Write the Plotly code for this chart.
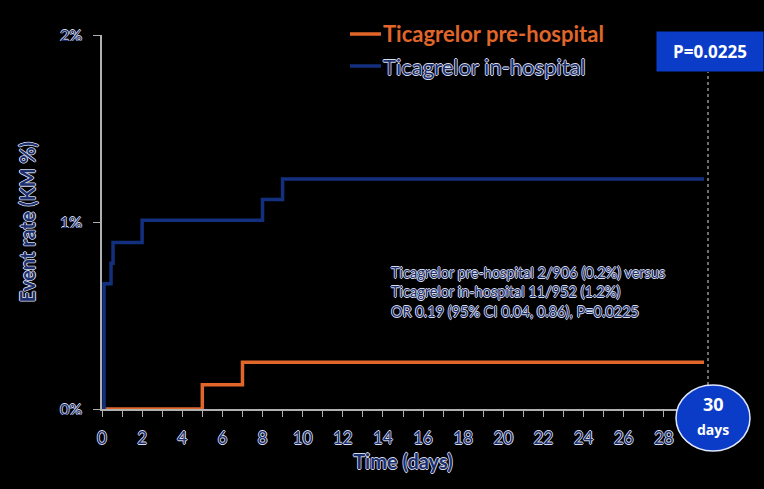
import plotly.graph_objects as go

# Kaplan-Meier step data (days, event rate in %)
in_days = [0, 0.1, 0.45, 0.55, 2, 8, 9, 30]
in_rate = [0, 0.67, 0.78, 0.89, 1.01, 1.12, 1.23, 1.23]
pre_days = [0, 5, 7, 30]
pre_rate = [0, 0.13, 0.25, 0.25]

x_ticks = list(range(0, 29, 2))
y_ticks = [0, 1, 2]
y_labels = ["0%", "1%", "2%"]

ORANGE = "#e0662a"
NAVY = "#12307e"
TXT_NAVY = "#1b2f6e"
BOX_BLUE = "#0a3cc8"
OUTLINE = "-0.8px 0 0 #d8dcea, 0.8px 0 0 #d8dcea, 0 -0.8px 0 #d8dcea, 0 0.8px 0 #d8dcea"

W, H = 764, 489
L, R, T, B = 102, 60, 35, 80


def px(x):
    return (x - L) / (W - L - R)


def py(y):
    return (H - B - y) / (H - T - B)


fig = go.Figure()
fig.add_trace(go.Scatter(x=pre_days, y=pre_rate, mode="lines", line_shape="hv",
                         line=dict(color=ORANGE, width=3.5), showlegend=False))
fig.add_trace(go.Scatter(x=in_days, y=in_rate, mode="lines", line_shape="hv",
                         line=dict(color=NAVY, width=3.5), showlegend=False))

shapes = []
annos = []

# legend drawn by hand so each label gets its own colour
shapes.append(dict(type="line", xref="paper", yref="paper", x0=px(350), x1=px(381),
                   y0=py(34), y1=py(34), line=dict(color=ORANGE, width=3.5)))
shapes.append(dict(type="line", xref="paper", yref="paper", x0=px(350), x1=px(381),
                   y0=py(66), y1=py(66), line=dict(color=NAVY, width=3.5)))
annos.append(dict(xref="paper", yref="paper", x=px(381), y=py(34), xanchor="left", yanchor="middle",
                  text="<b>Ticagrelor pre-hospital</b>", showarrow=False,
                  font=dict(family="Lato", size=22, color=ORANGE)))
annos.append(dict(xref="paper", yref="paper", x=px(381), y=py(66), xanchor="left", yanchor="middle",
                  text="Ticagrelor in-hospital", showarrow=False,
                  font=dict(family="Lato", size=22, color=TXT_NAVY, shadow=OUTLINE)))

# P value box and dotted line
shapes.append(dict(type="line", xref="paper", yref="paper", x0=px(708), x1=px(708),
                   y0=py(409), y1=py(72), line=dict(color="#dddddd", width=1, dash="dot")))
annos.append(dict(xref="paper", yref="paper", x=px(710), y=py(52), xanchor="center", yanchor="middle",
                  text="<b>P=0.0225</b>", showarrow=False, bgcolor=BOX_BLUE, width=104, height=37,
                  font=dict(family="Open Sans", size=17, color="white")))

# 30 days circle
shapes.append(dict(type="circle", xref="paper", yref="paper", x0=px(676), x1=px(750),
                   y0=py(451), y1=py(385), fillcolor=BOX_BLUE, line=dict(color="#e0e6ff", width=1.5),
                   layer="above"))
annos.append(dict(xref="paper", yref="paper", x=px(713), y=py(404), xanchor="center", yanchor="middle",
                  text="<b>30</b>", showarrow=False, font=dict(family="Open Sans", size=18, color="white")))
annos.append(dict(xref="paper", yref="paper", x=px(713), y=py(429), xanchor="center", yanchor="middle",
                  text="<b>days</b>", showarrow=False, font=dict(family="Open Sans", size=14, color="white")))

# stats text
stats_lines = ["Ticagrelor pre-hospital 2/906 (0.2%) versus",
               "Ticagrelor in-hospital 11/952 (1.2%)",
               "OR 0.19 (95% CI 0.04, 0.86), P=0.0225"]
for i, line in enumerate(stats_lines):
    annos.append(dict(xref="paper", yref="paper", x=px(389), y=py(272 + 19.5 * i), xanchor="left",
                      yanchor="middle", text=line, showarrow=False,
                      font=dict(family="Lato", size=14.5, color=TXT_NAVY, shadow=OUTLINE)))

fig.update_layout(
    width=W, height=H,
    margin=dict(l=L, r=R, t=T, b=B),
    paper_bgcolor="black", plot_bgcolor="black",
    shapes=shapes, annotations=annos,
    xaxis=dict(range=[0, 30], tickmode="array", tickvals=x_ticks, showgrid=False, zeroline=False,
               showline=True, linecolor="#b0b0b0", linewidth=1.5, ticks="outside", ticklen=6,
               tickcolor="#b0b0b0", ticklabelstandoff=7,
               minor=dict(tickvals=list(range(1, 30, 2)), ticks="outside", ticklen=6, tickcolor="#b0b0b0"),
               tickfont=dict(family="Lato", size=17, color=TXT_NAVY, shadow=OUTLINE),
               title=dict(text="<b>Time (days)</b>", standoff=8,
                          font=dict(family="Lato", size=20, color=TXT_NAVY, shadow=OUTLINE))),
    yaxis=dict(range=[0, 2], tickmode="array", tickvals=y_ticks, ticktext=y_labels, showgrid=False,
               zeroline=False, showline=True, linecolor="#b0b0b0", linewidth=1.5, ticks="outside",
               ticklen=7, tickcolor="#b0b0b0", ticklabelstandoff=8,
               tickfont=dict(family="Lato", size=16, color=TXT_NAVY, shadow=OUTLINE),
               title=dict(text="<b>Event rate (KM %)</b>", standoff=19,
                          font=dict(family="Lato", size=20, color=TXT_NAVY, shadow=OUTLINE))),
)

fig.write_html("out.html", config={"displayModeBar": False},
               post_script="document.body.style.margin='0';document.body.style.background='black';")
